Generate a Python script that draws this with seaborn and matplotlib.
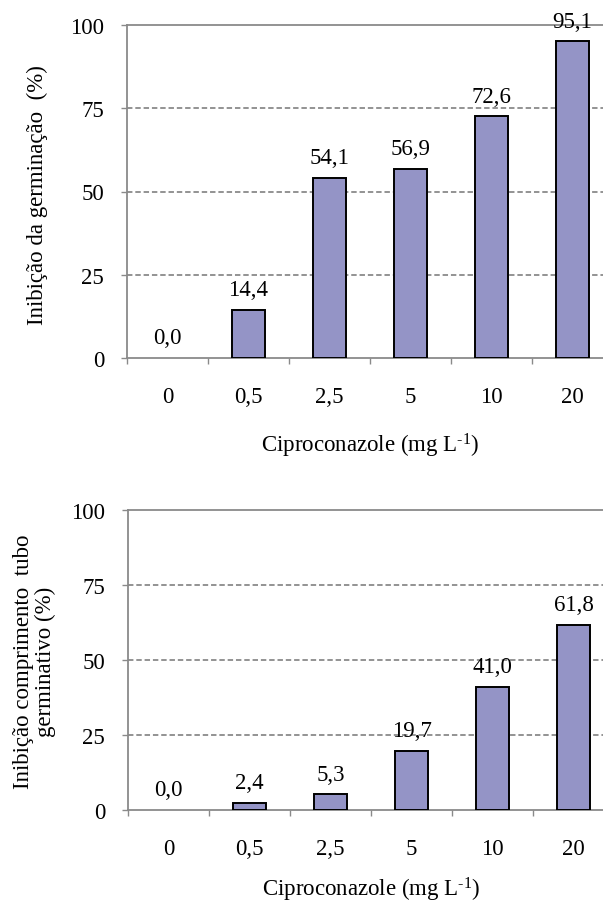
import numpy as np
import pandas as pd
import matplotlib
matplotlib.use("Agg")
import matplotlib.pyplot as plt
import seaborn as sns

# ---- data ----
categories = ["0", "0,5", "2,5", "5", "10", "20"]
germination_inhibition = [0.0, 14.4, 54.1, 56.9, 72.6, 95.1]
tube_inhibition = [0.0, 2.4, 5.3, 19.7, 41.0, 61.8]
y_ticks = [0, 25, 50, 75, 100]
xlabel = r"Ciproconazole (mg L$^{\text{-1}}$)"
ylabel_top = "Inibição da germinação  (%)"
ylabel_bottom = "Inibição comprimento  tubo\ngerminativo (%)"

sns.set_theme(style="white")
plt.rcParams["font.family"] = ["Liberation Serif", "DejaVu Serif"]
plt.rcParams["mathtext.fontset"] = "custom"
plt.rcParams["mathtext.rm"] = "Liberation Serif"
plt.rcParams["mathtext.it"] = "Liberation Serif:italic"
plt.rcParams["mathtext.bf"] = "Liberation Serif:bold"

FS = 16.5
BAR = "#9494C6"
GRAY = "#8a8a8a"

fig = plt.figure(figsize=(6.03, 9.04), dpi=100)
W, H = 603, 904


def make_axes(left_px, bottom_px, top_px, width_px):
    return fig.add_axes([left_px / W, 1 - bottom_px / H, width_px / W,
                         (bottom_px - top_px) / H])


ax1 = make_axes(127, 359, 26, 486)
ax2 = make_axes(128, 811, 511, 486)


def draw(ax, values, ylabel, ylab_x, ylab_y, xlab_y):
    df = pd.DataFrame({"cat": categories, "val": values})
    sns.barplot(data=df, x="cat", y="val", order=categories, ax=ax,
                color=BAR, saturation=1, width=0.4,
                edgecolor="black", linewidth=1.4, zorder=3)
    for p in ax.patches:
        if p.get_height() == 0:
            p.set_visible(False)
    ax.set_xlim(-0.5, 5.5)
    ax.set_ylim(0, 100)
    ax.set_axisbelow(True)

    # y axis
    ax.set_yticks(y_ticks)
    ax.set_yticklabels([str(t) for t in y_ticks], fontsize=FS, color="black")
    ax.tick_params(axis="y", which="major", direction="out", length=4.5,
                   width=1, color=GRAY, pad=12, left=True)

    # x axis: ticks at category boundaries, labels at centres
    ax.set_xticks(np.arange(-0.5, len(categories), 1.0))
    ax.set_xticklabels([])
    ax.set_xticks(np.arange(len(categories)), minor=True)
    ax.set_xticklabels(categories, minor=True, fontsize=FS, color="black")
    ax.tick_params(axis="x", which="major", direction="out", length=4.5,
                   width=1, color=GRAY, bottom=True)
    ax.tick_params(axis="x", which="minor", length=0, pad=20, bottom=True)

    # grid
    ax.yaxis.grid(True, color=GRAY, linestyle=(0, (3, 1.6)), linewidth=1.3)
    ax.xaxis.grid(False)
    gl = ax.get_ygridlines()
    gl[0].set_visible(False)
    gl[-1].set_visible(False)

    # spines
    for side in ["left", "bottom", "top"]:
        ax.spines[side].set_visible(True)
        ax.spines[side].set_color(GRAY)
        ax.spines[side].set_linewidth(1.3)
    ax.spines["right"].set_visible(False)

    # labels
    ax.set_xlabel(xlabel, fontsize=FS, color="black")
    ax.xaxis.label.set_verticalalignment("baseline")
    ax.xaxis.set_label_coords(0.5, xlab_y)
    ax.set_ylabel(ylabel, fontsize=FS, color="black", linespacing=1.03)
    ax.yaxis.label.set_verticalalignment("center")
    ax.yaxis.set_label_coords(ylab_x, ylab_y)

    # value labels
    for i, v in enumerate(values):
        ax.annotate(f"{v:.1f}".replace(".", ","), xy=(i, v),
                    xytext=(0, 10.5), textcoords="offset points",
                    ha="center", va="baseline", fontsize=FS, color="black",
                    zorder=5)


draw(ax1, germination_inhibition, ylabel_top, -0.185, 0.4925, -0.282)
draw(ax2, tube_inhibition, ylabel_bottom, -0.192, 0.497, -0.284)

fig.savefig("out.png", dpi=100)
